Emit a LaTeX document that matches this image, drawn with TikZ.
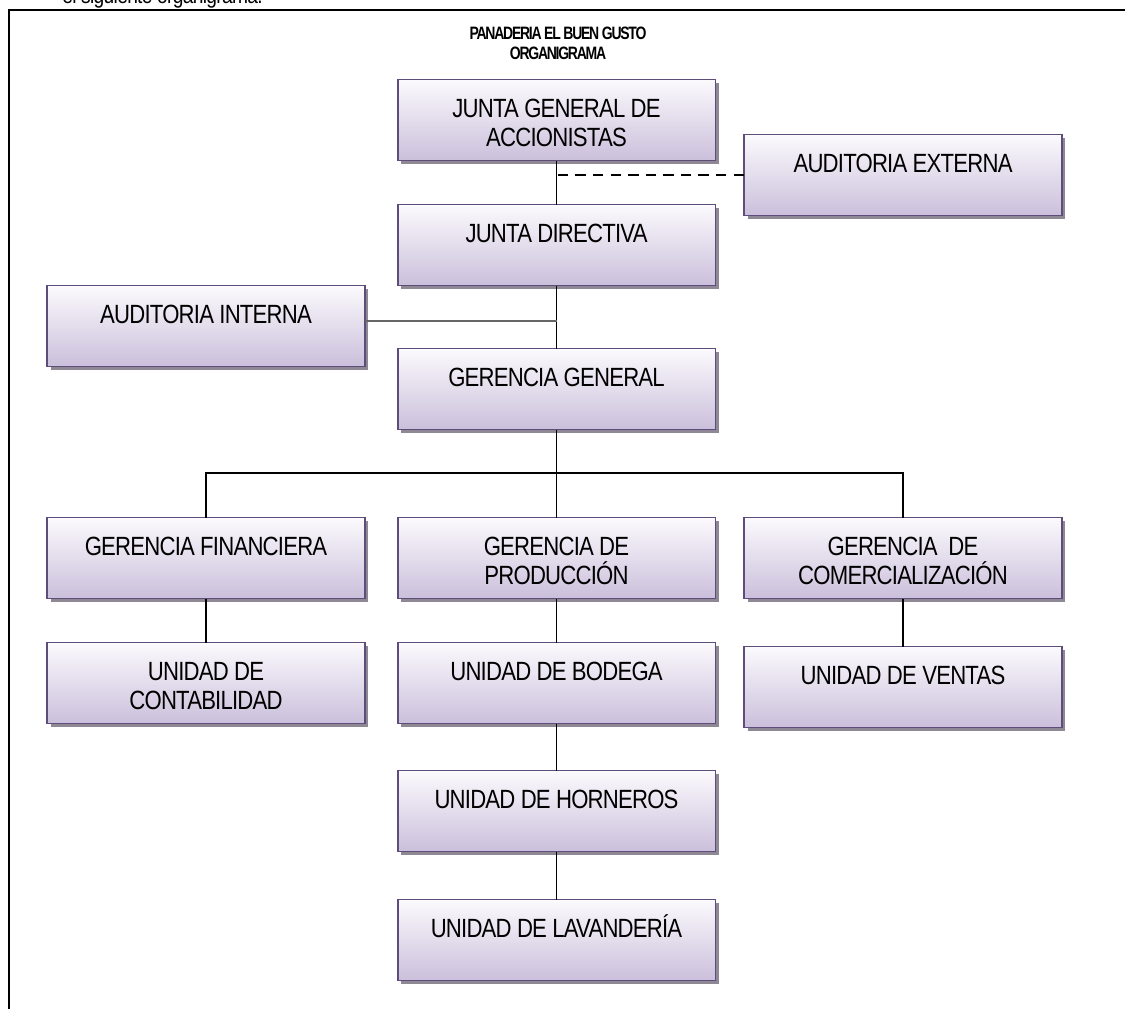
\documentclass[tikz,border=0pt]{standalone}
\usepackage{fontspec}
\setmainfont{Liberation Sans}
\newfontfamily\boxfont{Liberation Sans}[FakeStretch=0.84,LetterSpace=-3,BoldFont={Liberation Sans Bold}]
\newfontfamily\titlefont{Liberation Sans Bold}[FakeStretch=0.78,LetterSpace=-7]
\usetikzlibrary{shadows}
\definecolor{boxborder}{HTML}{5E4C7A}
\definecolor{boxbottom}{HTML}{CBBFDB}
\definecolor{boxtop}{HTML}{FBFAFD}
\definecolor{shadowgray}{HTML}{8E8894}
\newcommand\bxtext[1]{\parbox[c][1.62cm][t]{6.36cm}{\centering\boxfont\fontsize{15pt}{16.5pt}\selectfont\rule{0pt}{0.76cm}#1\par}}
\tikzset{
  orgbox/.style={draw=boxborder, line width=1.1pt, top color=boxtop, bottom color=boxbottom,
    inner sep=0pt, outer sep=0pt,
    drop shadow={shadow xshift=0.07cm, shadow yshift=-0.07cm, fill=shadowgray, opacity=1}},
  link/.style={black, line width=1pt},
  thinlink/.style={gray!80!black, line width=0.7pt},
  framelink/.style={black, line width=1.3pt}
}
\begin{document}
\begin{tikzpicture}[x=0.02cm,y=-0.02cm]
\useasboundingbox (0,0) rectangle (1125,1009);
\begin{scope}
\clip (0,0) rectangle (1125,1009);
\node[anchor=base west, inner sep=0pt] (intro) at (62,3) {\boxfont\fontsize{13pt}{15pt}\selectfont el siguiente organigrama.};
\end{scope}
% frame
\coordinate (ftl) at (9,10);
\coordinate (ftr) at (1125,10);
\coordinate (fbl) at (9,1009);
\draw[framelink] (ftr) -- (ftl) -- (fbl);
% title
\node[align=center, inner sep=0pt, font=\titlefont\fontsize{10.2pt}{11.4pt}\selectfont] (title) at (558,43) {PANADERIA EL BUEN GUSTO\\ORGANIGRAMA};
% boxes
\node[orgbox] (jga) at (556.5,120) {\bxtext{JUNTA GENERAL DE\\ACCIONISTAS}};
\node[orgbox] (ae) at (903,175) {\bxtext{AUDITORIA EXTERNA}};
\node[orgbox] (jd) at (556.5,245) {\bxtext{JUNTA DIRECTIVA}};
\node[orgbox] (ai) at (206,326) {\bxtext{AUDITORIA INTERNA}};
\node[orgbox] (gg) at (556.5,389) {\bxtext{GERENCIA GENERAL}};
\node[orgbox] (gf) at (206,558) {\bxtext{GERENCIA FINANCIERA}};
\node[orgbox] (gp) at (556.5,558) {\bxtext{GERENCIA DE\\PRODUCCIÓN}};
\node[orgbox] (gc) at (903,558) {\bxtext{GERENCIA\ \ DE\\COMERCIALIZACIÓN}};
\node[orgbox] (uc) at (206,683) {\bxtext{UNIDAD DE\\CONTABILIDAD}};
\node[orgbox] (ub) at (556.5,683) {\bxtext{UNIDAD DE BODEGA}};
\node[orgbox] (uv) at (903,687) {\bxtext{UNIDAD DE VENTAS}};
\node[orgbox] (uh) at (556.5,811) {\bxtext{UNIDAD DE HORNEROS}};
\node[orgbox] (ul) at (556.5,940) {\bxtext{UNIDAD DE LAVANDERÍA}};
% connectors
\coordinate (bus) at (556.5,473);
\draw[link] (jga.south) -- (jd.north);
\draw[link, dash pattern=on 6pt off 4pt] (ae.west) -- (ae.west -| jga.south);
\draw[link] (jd.south) -- (gg.north);
\draw[thinlink] ([yshift=0.1cm]ai.east) -- ([yshift=0.1cm]ai.east -| jd.south);
\draw[link] (gg.south) -- (gp.north);
\draw[link] (gf.north) -- (gf.north |- bus) -- (gc.north |- bus) -- (gc.north);
\draw[link] (gf.south) -- (uc.north);
\draw[link] (gp.south) -- (ub.north);
\draw[link] (gc.south) -- (uv.north);
\draw[link] (ub.south) -- (uh.north);
\draw[link] (uh.south) -- (ul.north);
\end{tikzpicture}
\end{document}
